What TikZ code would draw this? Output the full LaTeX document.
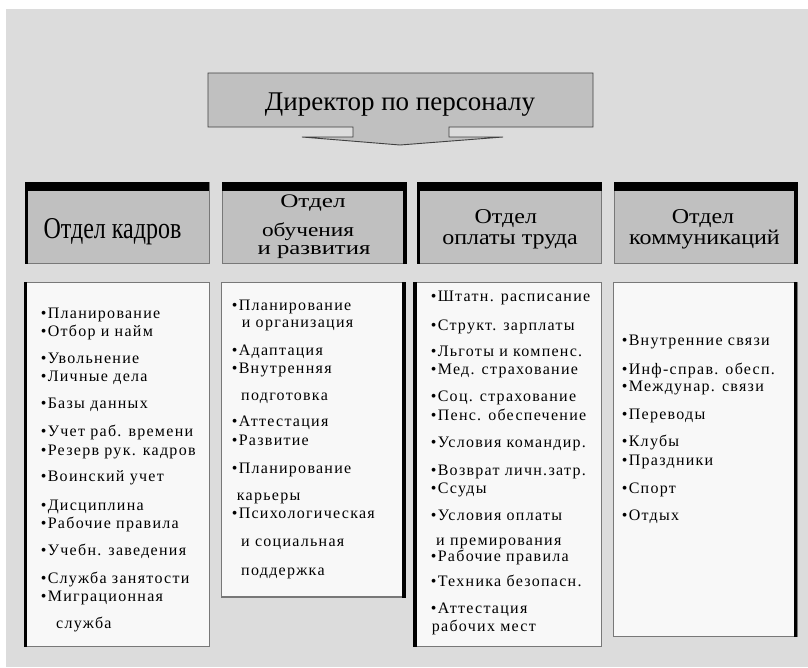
\documentclass[tikz,border=0pt]{standalone}
\usepackage{fontspec}
\setmainfont{Liberation Serif}
\newfontfamily\itemfont[LetterSpace=8]{Liberation Serif}

\definecolor{pagegray}{RGB}{220,220,220}
\definecolor{headgray}{RGB}{192,192,192}
\definecolor{listwhite}{RGB}{248,248,248}
\definecolor{edgegray}{RGB}{120,120,120}

\begin{document}
\begin{tikzpicture}[x=1pt,y=-1pt,
  item/.style={anchor=base west,inner sep=0pt,font=\itemfont\fontsize{16}{16}\selectfont},
  head/.style={anchor=base,inner sep=0pt,font=\fontsize{24}{24}\selectfont},
  boss/.style={anchor=base,inner sep=0pt,font=\fontsize{27}{27}\selectfont},
  panelhead/.style={fill=headgray,draw=edgegray,line width=1pt},
  panellist/.style={fill=listwhite,draw=edgegray,line width=1pt},
  shade/.style={fill=black},
  lowedge/.style={draw=edgegray,line width=1.6pt},
]
\useasboundingbox (0,0) rectangle (808,667);
\fill[pagegray] (6,9) rectangle (808,667);

% director box with the arrow below it
\filldraw[fill=headgray,draw=black!75,line width=0.9pt]
  (208,73) -- (593,73) -- (593,127) -- (449,127) -- (449,137) -- (503,137)
  -- (400,145) -- (302,137) -- (353,137) -- (353,127) -- (208,127) -- cycle;
\node[boss] (boss) at (400,110) {Директор по персоналу};

% department headers: grey box, black top bar, black side bar
\foreach \xa/\xb/\side in {25/209/L, 222/406.5/R, 417/601.5/L, 614/797.5/R}{
  \filldraw[panelhead] (\xa,182) rectangle (\xb,263.5);
  \draw[lowedge] (\xa,263.5) -- (\xb,263.5);
  \fill[shade] (\xa,181.5) rectangle (\xb,190.5);
  \if\side L
    \fill[shade] (\xa,181.5) rectangle (\xa+3.3,263.5);
  \else
    \fill[shade] (\xb-3.3,181.5) rectangle (\xb,263.5);
  \fi
}

% task lists under the headers
\foreach \xa/\xb/\yb/\side in {24/209.5/646.5/L, 221.7/405.5/597/R, 413.3/601/646.5/L, 613.3/797/636.5/R}{
  \filldraw[panellist] (\xa,282.7) rectangle (\xb,\yb);
  \draw[lowedge] (\xa,\yb) -- (\xb,\yb);
  \if\side L
    \fill[shade] (\xa,282.2) rectangle (\xa+3.3,\yb+0.8);
  \else
    \fill[shade] (\xb-3.3,282.2) rectangle (\xb,\yb+0.8);
  \fi
}

% header titles
\node[head] (h1) at (112.5,238.3) {\scalebox{1}[1.26]{Отдел кадров}};
\node[head] (h2a) at (313,207.3) {\scalebox{1.05}[0.8]{Отдел}};
\node[head] (h2b) at (308,236.7) {\scalebox{0.97}[0.8]{обучения}};
\node[head] (h2c) at (314,254) {\scalebox{1.03}[0.8]{и развития}};
\node[head] (h3a) at (505.8,223.5) {\scalebox{1}[0.88]{Отдел}};
\node[head] (h3b) at (510,244.5) {\scalebox{1}[0.88]{оплаты труда}};
\node[head] (h4a) at (703,223.5) {\scalebox{1}[0.88]{Отдел}};
\node[head] (h4b) at (704.5,244.5) {\scalebox{1}[0.88]{коммуникаций}};

% personnel department
\foreach \px/\py/\t [count=\i] in {
  40.7/318.3/•Планирование, 40.7/336.7/•Отбор и найм,
  40.7/363/•Увольнение, 40.7/381.7/•Личные дела,
  40.7/408/•Базы данных,
  40.7/436.7/•Учет раб. времени, 40.7/455.7/•Резерв рук. кадров,
  40.7/481.7/•Воинский учет,
  40.7/510/•Дисциплина, 40.7/528/•Рабочие правила,
  40.7/555/•Учебн. заведения,
  40.7/583/•Служба занятости, 40.7/601.7/•Миграционная,
  56/628/служба}
  \node[item] (a\i) at (\px,\py) {\t};

% training and development
\foreach \px/\py/\t [count=\i] in {
  231.7/310/•Планирование, 241.7/327.7/и организация,
  231.7/355/•Адаптация, 231.7/373.3/•Внутренняя,
  241/400/подготовка,
  231.7/426.7/•Аттестация, 231.7/445/•Развитие,
  231.7/473.3/•Планирование, 236.7/500/карьеры,
  231.7/518.3/•Психологическая, 241/546.7/и социальная,
  241/575/поддержка}
  \node[item] (b\i) at (\px,\py) {\t};

% compensation
\foreach \px/\py/\t [count=\i] in {
  430.7/301.7/•Штатн. расписание,
  430.7/330/•Структ. зарплаты,
  430.7/356/•Льготы и компенс., 430.7/374.3/•Мед. страхование,
  430.7/401.7/•Соц. страхование, 430.7/420/•Пенс. обеспечение,
  430.7/447.3/•Условия командир.,
  430.7/475/•Возврат личн.затр., 430.7/493.3/•Ссуды,
  430.7/520/•Условия оплаты, 436/545.5/и премирования,
  430.7/561/•Рабочие правила,
  430.7/586.7/•Техника безопасн.,
  430.7/613.3/•Аттестация, 431.7/631.7/рабочих мест}
  \node[item] (c\i) at (\px,\py) {\t};

% communications
\foreach \px/\py/\t [count=\i] in {
  621.7/345.7/•Внутренние связи,
  621.7/374/•Инф-справ. обесп., 621.7/391.7/•Междунар. связи,
  621.7/419.3/•Переводы,
  621.7/446.7/•Клубы, 621.7/465/•Праздники,
  621.7/493.3/•Спорт,
  621.7/520/•Отдых}
  \node[item] (d\i) at (\px,\py) {\t};
\end{tikzpicture}
\end{document}
